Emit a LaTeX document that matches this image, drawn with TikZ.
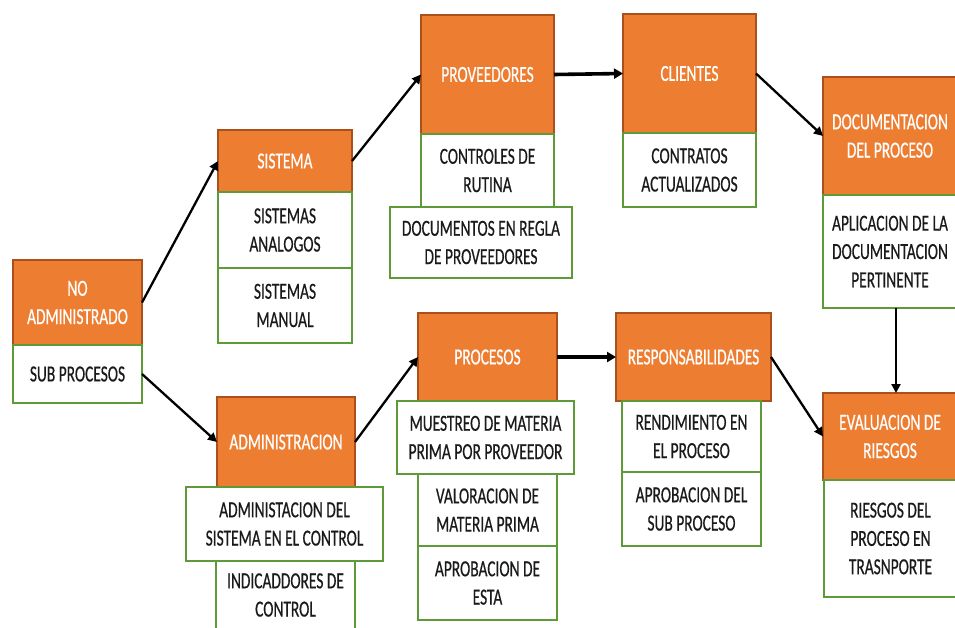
\documentclass[tikz,border=0pt]{standalone}
\usepackage{fontspec}
\setmainfont{Carlito}[FakeStretch=0.67,FakeBold=0.5]
\usetikzlibrary{arrows.meta}
\definecolor{hdrfill}{HTML}{ED7D31}
\definecolor{hdrline}{HTML}{A9501C}
\definecolor{subline}{HTML}{5E9B38}
\definecolor{txt}{HTML}{1A1A1A}
\tikzset{
  box/.style={rectangle, inner sep=0pt, outer sep=0pt, align=center,
    font=\fontsize{23}{28.3}\selectfont},
  hdr/.style={box, fill=hdrfill, draw=hdrline, line width=1.4pt, text=white},
  sub/.style={box, fill=white, draw=subline, line width=2pt, text=txt},
  link/.style={line width=2.3pt, -{Triangle[length=9pt,width=9pt]}},
  thicklink/.style={line width=3.6pt, -{Triangle[length=9pt,width=10pt]}},
}
\begin{document}
\begin{tikzpicture}[x=1pt,y=-1pt]
\useasboundingbox[fill=white] (0,0) rectangle (955,627);

% header boxes
\node[hdr, minimum width=129pt, minimum height=85pt]  (noadm) at (77.5,302.5) {NO\\ADMINISTRADO};
\node[hdr, minimum width=134pt, minimum height=62pt]  (sis)   at (285,161) {SISTEMA};
\node[hdr, minimum width=133pt, minimum height=119pt] (prov)  at (487.5,74.5) {PROVEEDORES};
\node[hdr, minimum width=133pt, minimum height=119pt] (cli)   at (689.5,73.5) {CLIENTES};
\node[hdr, minimum width=134pt, minimum height=118pt] (doc)   at (890,136) {DOCUMENTACION\\DEL PROCESO};
\node[hdr, minimum width=134pt, minimum height=87pt]  (eval)  at (890,436.5) {EVALUACION DE\\RIESGOS};
\node[hdr, minimum width=138pt, minimum height=90pt]  (adm)   at (286,442) {ADMINISTRACION};
\node[hdr, minimum width=139pt, minimum height=88pt]  (proc)  at (487.5,357) {PROCESOS};
\node[hdr, minimum width=155pt, minimum height=88pt]  (resp)  at (693.5,357) {RESPONSABILIDADES};

% detail boxes
\node[sub, minimum width=129pt, minimum height=58pt]  (subp)   at (77.5,374) {SUB PROCESOS};
\node[sub, minimum width=134pt, minimum height=76pt]  (sisan)  at (285,230) {SISTEMAS\\ANALOGOS};
\node[sub, minimum width=134pt, minimum height=75pt]  (sisman) at (285,305.5) {SISTEMAS\\MANUAL};
\node[sub, minimum width=133pt, minimum height=73pt]  (ctrl)   at (487.5,170.5) {CONTROLES DE\\RUTINA};
\node[sub, minimum width=182pt, minimum height=71pt]  (docreg) at (481,242.5) {DOCUMENTOS EN REGLA\\DE PROVEEDORES};
\node[sub, minimum width=133pt, minimum height=74pt]  (contr)  at (689.5,170) {CONTRATOS\\ACTUALIZADOS};
\node[sub, minimum width=134pt, minimum height=113pt] (docw)   at (890,251.5) {APLICACION DE LA\\DOCUMENTACION\\PERTINENTE};
\node[sub, minimum width=133pt, minimum height=117pt] (riesg)  at (890.5,538.5) {RIESGOS DEL\\PROCESO EN\\TRASNPORTE};
\node[sub, minimum width=197pt, minimum height=74pt]  (admsis) at (284.5,524) {ADMINISTACION DEL\\SISTEMA EN EL CONTROL};
\node[sub, minimum width=139pt, minimum height=68pt]  (indic)  at (285.5,595) {INDICADDORES DE\\CONTROL};
\node[sub, minimum width=177pt, minimum height=73pt]  (muest)  at (485.5,437.5) {MUESTREO DE MATERIA\\PRIMA POR PROVEEDOR};
\node[sub, minimum width=139pt, minimum height=72pt]  (valor)  at (487.5,510) {VALORACION DE\\MATERIA PRIMA};
\node[sub, minimum width=139pt, minimum height=74pt]  (aprob)  at (487.5,583) {APROBACION DE\\ESTA};
\node[sub, minimum width=139pt, minimum height=71pt]  (rend)   at (691.5,436.5) {RENDIMIENTO EN\\EL PROCESO};
\node[sub, minimum width=139pt, minimum height=74pt]  (aprsub) at (691.5,509) {APROBACION DEL\\SUB PROCESO};

% connectors
\draw[link] (noadm.east) -- (sis.west);
\draw[link] (subp.east) -- (adm.west);
\draw[link] (sis.east) -- (prov.west);
\draw[thicklink] (prov.east) -- (cli.west);
\draw[link] (cli.east) -- (doc.west);
\draw[link] ([xshift=73pt]docw.south west) -- ([xshift=73pt]eval.north west);
\draw[link] (adm.east) -- (proc.west);
\draw[thicklink] (proc.east) -- (resp.west);
\draw[link] (resp.east) -- (eval.west);
\end{tikzpicture}
\end{document}
